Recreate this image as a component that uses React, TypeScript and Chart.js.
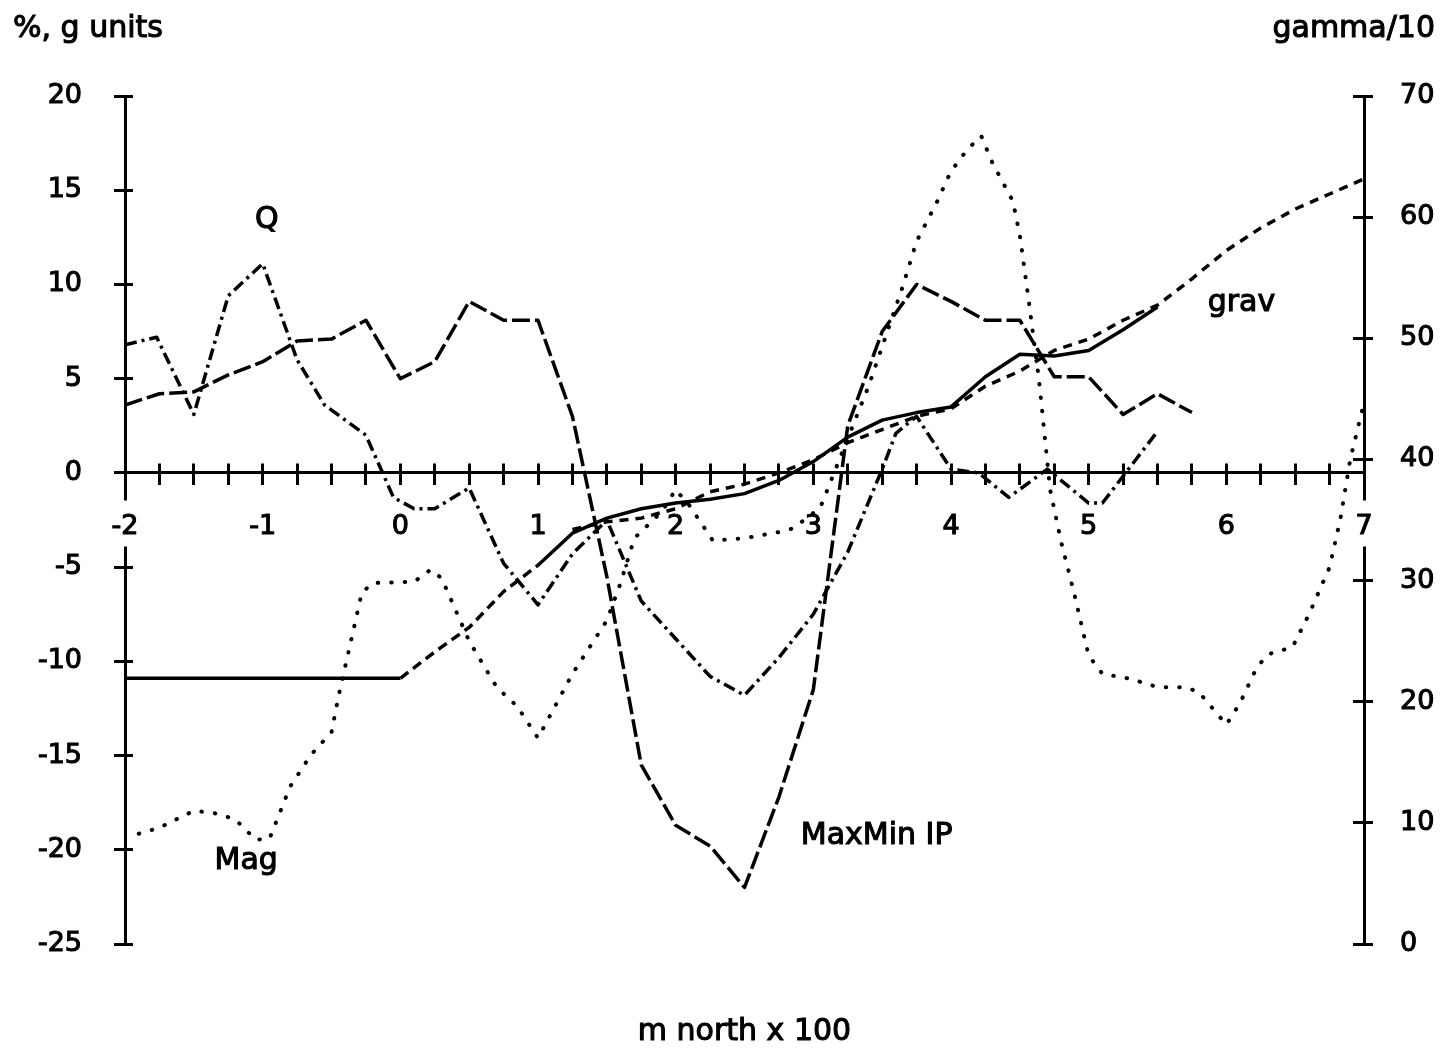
import React, { useEffect, useRef } from "react";
import { Chart, registerables } from "chart.js";

Chart.register(...registerables);

const FONT = "'DejaVu Sans', 'Liberation Sans', sans-serif";

// ---- axes ----
const xMin = -2;
const xMax = 7;
const xStep = 0.25;
const leftMin = -25;
const leftMax = 20;
const leftStep = 5;
const rightMin = 0;
const rightMax = 70;
const rightStep = 10;

// ---- MaxMin IP (%, left axis) ----
const maxMinX = [-2, -1.75, -1.5, -1.25, -1, -0.75, -0.5, -0.25, 0, 0.25, 0.5, 0.75, 1, 1.25, 1.5, 1.75, 2, 2.25, 2.5, 2.75, 3, 3.25, 3.5, 3.75, 4, 4.25, 4.5, 4.75, 5, 5.25, 5.5, 5.75];
const maxMinY = [3.6, 4.2, 4.3, 5.2, 5.9, 7.0, 7.1, 8.1, 5.0, 5.9, 9.1, 8.1, 8.1, 3.0, -5.5, -15.5, -18.7, -19.8, -22.0, -17.2, -11.5, 2.5, 7.5, 10.0, 9.1, 8.1, 8.1, 5.1, 5.1, 3.1, 4.2, 3.2];

// ---- Q (%, left axis) ----
const qX = [-2, -1.77, -1.5, -1.25, -1, -0.75, -0.55, -0.25, -0.05, 0.1, 0.25, 0.5, 0.75, 1, 1.25, 1.5, 1.75, 2, 2.25, 2.5, 2.75, 3, 3.25, 3.5, 3.6, 3.75, 4, 4.2, 4.42, 4.7, 5, 5.1, 5.5];
const qY = [6.8, 7.2, 3.1, 9.4, 11.1, 6.0, 3.6, 2.0, -1.3, -1.9, -1.9, -0.8, -4.8, -7.0, -4.3, -2.5, -6.8, -8.8, -10.8, -11.8, -9.8, -7.5, -4.2, 0.2, 2.1, 3.0, 0.2, 0.0, -1.3, 0.2, -1.6, -1.6, 2.2];

// ---- grav (g units, left axis) ----
const gravX = [-2, 0, 0.25, 0.5, 0.75, 1, 1.25, 1.5, 1.75, 2, 2.25, 2.5, 2.75, 3, 3.25, 3.5, 3.75, 4, 4.25, 4.5, 4.75, 5, 5.25, 5.5];
const gravY = [-10.9, -10.9, -9.5, -8.2, -6.3, -4.9, -3.2, -2.4, -1.9, -1.6, -1.4, -1.1, -0.4, 0.6, 1.9, 2.8, 3.2, 3.5, 5.1, 6.3, 6.2, 6.5, 7.6, 8.8];

// ---- grav, second profile (g units, left axis) ----
const grav2X = [1.25, 1.5, 1.75, 2, 2.25, 2.5, 2.75, 3, 3.25, 3.5, 3.75, 4, 4.25, 4.5, 4.75, 5, 5.25, 5.5, 5.75, 6, 6.25, 6.5, 6.75, 7];
const grav2Y = [-3.0, -2.6, -2.4, -1.9, -1.0, -0.6, 0.0, 0.7, 1.6, 2.3, 3.0, 3.4, 4.6, 5.4, 6.5, 7.1, 8.1, 8.9, 10.3, 11.8, 13.0, 14.0, 14.8, 15.6];

// ---- Mag (gamma/10, right axis) ----
const magX = [-1.9, -1.75, -1.5, -1.35, -1.2, -1.05, -0.95, -0.8, -0.65, -0.5, -0.45, -0.28, -0.2, 0.1, 0.22, 0.3, 0.5, 0.7, 0.85, 1.0, 1.25, 1.5, 1.6, 1.7, 1.9, 2.0, 2.1, 2.27, 2.5, 2.75, 2.85, 3.05, 3.2, 3.4, 3.5, 3.65, 3.75, 3.9, 4.0, 4.12, 4.22, 4.3, 4.45, 4.5, 4.56, 4.64, 4.72, 4.8, 4.9, 5.0, 5.1, 5.3, 5.5, 5.7, 5.8, 6.0, 6.1, 6.22, 6.3, 6.48, 6.6, 6.75, 6.83, 6.9, 7.0];
const magY = [9.1, 9.6, 11.0, 10.8, 10.3, 8.6, 8.7, 13.0, 15.6, 17.5, 20.4, 29.0, 29.8, 29.9, 30.9, 30.2, 25.0, 21.2, 19.6, 17.0, 22.3, 26.7, 29.8, 33.5, 35.7, 37.5, 36.2, 33.3, 33.5, 34.0, 34.3, 36.0, 40.3, 46.0, 49.3, 54.3, 58.0, 61.3, 63.8, 65.6, 66.7, 64.5, 61.3, 58.5, 53.5, 46.5, 37.5, 33.2, 28.7, 23.8, 22.3, 21.9, 21.2, 21.2, 20.8, 18.1, 19.9, 22.8, 23.9, 24.5, 27.2, 31.1, 35.2, 40.0, 44.7];

// ---- texts ----
const leftTitle = "%, g units";
const rightTitle = "gamma/10";
const xTitle = "m north x 100";
const curveLabels = ["Q", "grav", "Mag", "MaxMin IP"];
const curveLabelX = [-0.97, 6.11, -1.12, 3.46];
const curveLabelY = [13.4, 9.0, -20.6, -19.3];

const pts = (xs: number[], ys: number[]) => xs.map((x, i) => ({ x, y: ys[i] }));

const align = (p: number, w: number) => Math.round(p - w / 2) + w / 2;

const heavyText = (ctx: CanvasRenderingContext2D, t: string, x: number, y: number) => {
  ctx.fillText(t, x, y);
  ctx.strokeText(t, x, y);
};

const decor = {
  id: "decor",
  beforeDatasetsDraw(chart: any) {
    const { ctx, chartArea: a, scales } = chart;
    const xs = scales.x;
    const yl = scales.y;
    const yr = scales.y2;
    const y0 = align(yl.getPixelForValue(0), 3);
    ctx.save();
    ctx.strokeStyle = "#000";
    ctx.lineWidth = 3;
    ctx.beginPath();
    xs.ticks.forEach((t: any) => {
      const p = align(xs.getPixelForValue(t.value), 3);
      ctx.moveTo(p, y0 - 9);
      ctx.lineTo(p, y0);
    });
    yl.ticks.forEach((t: any) => {
      const p = align(yl.getPixelForValue(t.value), 3);
      ctx.moveTo(a.left, p);
      ctx.lineTo(a.left + 8, p);
    });
    yr.ticks.forEach((t: any) => {
      const p = align(yr.getPixelForValue(t.value), 3);
      ctx.moveTo(a.right - 11, p);
      ctx.lineTo(a.right, p);
    });
    ctx.stroke();
    // the vertical axes are interrupted behind the end labels of the x axis
    ctx.fillStyle = "#fff";
    ctx.fillRect(a.left - 4, y0 + 28, 8, 46);
    ctx.fillRect(a.right - 4, y0 + 28, 8, 46);
    ctx.restore();
  },
  afterDraw(chart: any) {
    const { ctx, chartArea: a, scales } = chart;
    const xs = scales.x;
    const yl = scales.y;
    ctx.save();
    ctx.fillStyle = "#000";
    ctx.strokeStyle = "#000";
    ctx.lineWidth = 1.1;
    ctx.font = `30px ${FONT}`;
    ctx.textBaseline = "middle";
    ctx.textAlign = "center";
    curveLabels.forEach((t, i) => {
      heavyText(ctx, t, xs.getPixelForValue(curveLabelX[i]), yl.getPixelForValue(curveLabelY[i]));
    });
    ctx.textBaseline = "alphabetic";
    ctx.textAlign = "left";
    heavyText(ctx, leftTitle, 13, 37);
    ctx.textAlign = "right";
    heavyText(ctx, rightTitle, 1435, 37);
    ctx.textAlign = "center";
    heavyText(ctx, xTitle, (a.left + a.right) / 2, 1040);
    ctx.restore();
  },
};

export default function App() {
  const ref = useRef<HTMLCanvasElement>(null);

  useEffect(() => {
    Chart.defaults.font.family = FONT;
    Chart.defaults.color = "#000";
    const gridCommon = {
      drawOnChartArea: false,
      drawTicks: true,
      color: "#000",
      lineWidth: 3,
      tickWidth: 3,
      tickColor: "#000",
    };
    const tickText = { textStrokeColor: "#000", textStrokeWidth: 1.1 };
    const chart = new Chart(ref.current as HTMLCanvasElement, {
      type: "line",
      data: {
        datasets: [
          {
            label: "MaxMin IP",
            data: pts(maxMinX, maxMinY),
            yAxisID: "y",
            borderColor: "#000",
            borderWidth: 3.5,
            borderDash: [18, 5],
          },
          {
            label: "Q",
            data: pts(qX, qY),
            yAxisID: "y",
            borderColor: "#000",
            borderWidth: 3.5,
            borderDash: [12, 5, 3, 5],
          },
          {
            label: "grav",
            data: pts(gravX, gravY),
            yAxisID: "y",
            borderColor: "#000",
            borderWidth: 3.5,
            segment: {
              borderDash: (c: any) => (c.p0.parsed.x >= 0 && c.p1.parsed.x <= 1 ? [10, 6] : undefined),
            },
          },
          {
            label: "grav 2",
            data: pts(grav2X, grav2Y),
            yAxisID: "y",
            borderColor: "#000",
            borderWidth: 3.5,
            borderDash: [9, 7],
          },
          {
            label: "Mag",
            data: pts(magX, magY),
            yAxisID: "y2",
            borderColor: "#000",
            borderWidth: 4,
            borderDash: [0.5, 13],
            borderCapStyle: "round",
          },
        ] as any,
      },
      options: {
        animation: false,
        responsive: false,
        devicePixelRatio: 1,
        parsing: false as any,
        normalized: true,
        layout: { padding: { top: 96, bottom: 105, left: 0, right: 0 } },
        elements: {
          point: { radius: 0, hoverRadius: 0 },
          line: { tension: 0, borderJoinStyle: "round", fill: false },
        },
        plugins: {
          legend: { display: false },
          tooltip: { enabled: false },
          title: { display: false },
        },
        events: [],
        scales: {
          x: {
            type: "linear",
            position: { y: 0 } as any,
            min: xMin,
            max: xMax,
            grid: { ...gridCommon, tickLength: 11 },
            border: { display: true, width: 3, color: "#000" },
            ticks: {
              ...tickText,
              stepSize: xStep,
              autoSkip: false,
              maxRotation: 0,
              minRotation: 0,
              padding: 27,
              z: 1,
              font: { size: 27 },
              callback: (v: any) => (Number.isInteger(v) ? String(v) : ""),
            },
          },
          y: {
            type: "linear",
            position: "left",
            min: leftMin,
            max: leftMax,
            grid: { ...gridCommon, tickLength: 11 },
            border: { display: true, width: 3, color: "#000" },
            ticks: { ...tickText, stepSize: leftStep, padding: 32, font: { size: 27 } },
            afterFit: (s: any) => {
              s.width = 125;
            },
          },
          y2: {
            type: "linear",
            position: "right",
            min: rightMin,
            max: rightMax,
            grid: { ...gridCommon, tickLength: 9 },
            border: { display: true, width: 3, color: "#000" },
            ticks: { ...tickText, stepSize: rightStep, padding: 27, font: { size: 27 } },
            afterFit: (s: any) => {
              s.width = 85;
            },
          },
        },
      } as any,
      plugins: [decor],
    });
    return () => chart.destroy();
  }, []);

  return (
    <div style={{ position: "absolute", left: 0, top: 0, width: 1449, height: 1049, background: "#fff" }}>
      <canvas ref={ref} width={1449} height={1049} style={{ display: "block", width: 1449, height: 1049 }} />
    </div>
  );
}
